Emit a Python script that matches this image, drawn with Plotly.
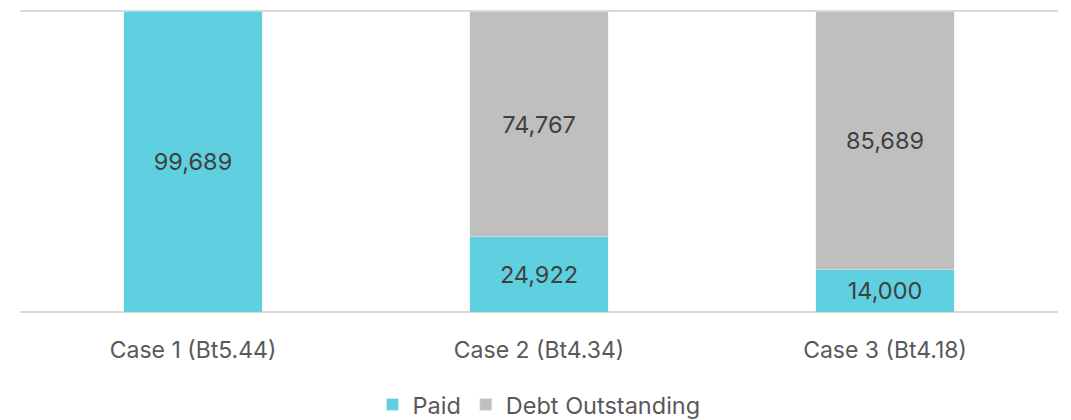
import plotly.graph_objects as go

categories = ["Case 1 (Bt5.44)", "Case 2 (Bt4.34)", "Case 3 (Bt4.18)"]
paid = [99689, 24922, 14000]
debt = [None, 74767, 85689]

FONT = "Inter"
fig = go.Figure()
fig.add_trace(go.Bar(
    name="Paid", x=categories, y=paid, marker_color="#5fd0e0",
    texttemplate="%{y:,}", textposition="inside", insidetextanchor="middle",
    textfont=dict(size=23.5, color="#404040", family=FONT), constraintext="none",
))
fig.add_trace(go.Bar(
    name="Debt Outstanding", x=categories, y=debt, marker_color="#bfbfbf",
    texttemplate="%{y:,}", textposition="inside", insidetextanchor="middle",
    textfont=dict(size=23.5, color="#404040", family=FONT), constraintext="none",
))
fig.update_layout(
    barmode="stack", bargap=0.6,
    width=1063, height=412,
    margin=dict(l=12, r=13, t=0, b=108, autoexpand=False),
    plot_bgcolor="white", paper_bgcolor="white",
    font=dict(family=FONT, size=23, color="#595959"),
    legend=dict(orientation="h", x=0.5, xanchor="center", y=-0.305, yanchor="middle",
                font=dict(size=23.5, color="#595959"), traceorder="normal",
                itemwidth=30, tracegroupgap=0),
    showlegend=True,
)
fig.update_xaxes(showline=False, ticks="", ticklabelstandoff=22,
                 tickfont=dict(size=23, color="#595959"))
fig.update_yaxes(range=[0, 100829], tickvals=[0, 100000], showticklabels=False,
                 gridcolor="#d9d9d9", gridwidth=2, zeroline=True,
                 zerolinecolor="#d9d9d9", zerolinewidth=2)
fig.write_html("out.html")
